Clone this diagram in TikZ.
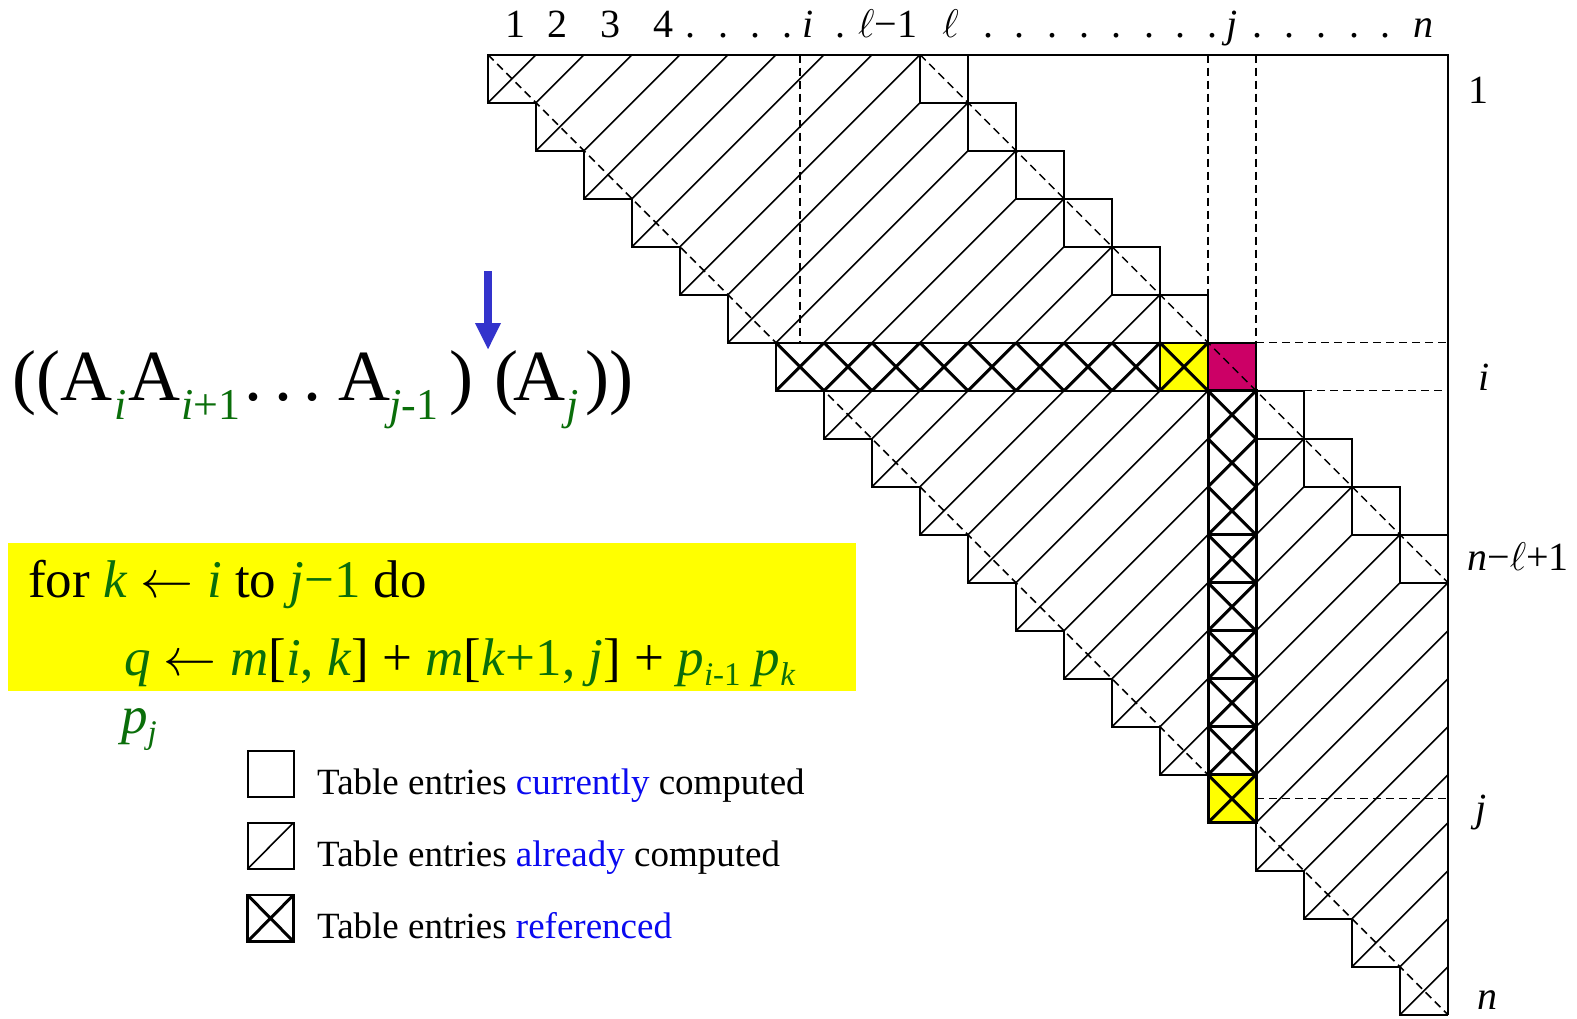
\RequirePackage{fix-cm}
\documentclass[tikz,border=0pt]{standalone}
\usepackage{fontspec}
\setmainfont{Liberation Serif}
\usetikzlibrary{arrows.meta}
\definecolor{codegreen}{RGB}{10,110,10}
\definecolor{cellmagenta}{RGB}{204,0,102}
\definecolor{cellyellow}{RGB}{255,255,0}
\definecolor{arrowblue}{RGB}{51,51,204}
\definecolor{legblue}{RGB}{10,10,240}
\newcommand{\gi}[1]{\textcolor{codegreen}{\textit{#1}}}
\newcommand{\gr}[1]{\textcolor{codegreen}{#1}}
\newcommand{\csub}[1]{\raisebox{-10pt}{\fontsize{33}{36}\selectfont\color{codegreen}#1}}
\newcommand{\larr}{\ensuremath{\leftarrow}}
\newcommand{\ellsym}{\ensuremath{\ell}}
\begin{document}
\begin{tikzpicture}[x=1pt,y=-1pt,
  tblline/.style={line width=2pt},
  hatchline/.style={line width=1.6pt},
  dashline/.style={line width=1.5pt, dash pattern=on 8pt off 5pt},
  refline/.style={line width=3pt},
  lbl/.style={font=\fontsize{40}{48}\selectfont, inner sep=0pt, anchor=base},
  bigtxt/.style={font=\fontsize{72}{80}\selectfont, inner sep=0pt, anchor=base west},
  subtxt/.style={font=\fontsize{44}{50}\selectfont\itshape, text=codegreen, inner sep=0pt, anchor=base west},
  codetxt/.style={font=\fontsize{53}{60}\selectfont, inner sep=0pt, anchor=base west},
  legtxt/.style={font=\fontsize{37}{44}\selectfont, inner sep=0pt, anchor=base west}]
\useasboundingbox (0,0) rectangle (1577,1019);
\fill[white] (0,0) rectangle (1577,1019);

% ---------------- table ----------------
\begin{scope}[shift={(488,54.7)}, x=48pt, y=-48pt]
  % fills
  \fill[cellyellow] (14,6) rectangle (15,7);
  \fill[cellyellow] (15,15) rectangle (16,16);
  \fill[cellmagenta] (15,6) rectangle (16,7);
  % hatching of already computed entries
  \foreach \rr in {1,...,20}{
    \pgfmathtruncatemacro\cmax{min(20,\rr+8)}
    \foreach \cc in {\rr,...,\cmax}{
      \ifnum\rr=7\relax\else\ifnum\cc=16\relax\else
        \draw[hatchline] (\cc-1,\rr) -- (\cc,\rr-1);
      \fi\fi
    }
  }
  % dashed diagonals
  \draw[dashline] (0,0) -- (20,20);
  \draw[dashline] (9,0) -- (20,11);
  % dashed guides
  \draw[dashline] (6.5,0) -- (6.5,6);
  \draw[dashline] (15,0) -- (15,6);
  \draw[dashline] (16,0) -- (16,6);
  \draw[dashline] (16,6) -- (20,6);
  \draw[dashline] (17,7) -- (20,7);
  \draw[dashline] (16,15.5) -- (20,15.5);
  % outline and staircase
  \draw[tblline] (20,20) -- (20,0) -- (0,0)
    \foreach \rr in {1,...,20}{ -- (\rr-1,\rr) -- (\rr,\rr) };
  % currently computed entries
  \foreach \rr in {1,...,11}{
    \draw[tblline] (\rr+8,\rr-1) rectangle (\rr+9,\rr);
  }
  % referenced row i
  \foreach \cc in {7,...,15}{
    \draw[refline] (\cc-1,6) -- (\cc,7) (\cc-1,7) -- (\cc,6);
  }
  \draw[tblline] (6,6) rectangle (15,7);
  \draw[tblline] (14,6) rectangle (15,7);
  % referenced column j
  \foreach \rr in {8,...,16}{
    \draw[refline] (15,\rr-1) -- (16,\rr) (15,\rr) -- (16,\rr-1);
  }
  \draw[refline] (15,7) rectangle (16,16);
  \foreach \rr in {10,...,15}{
    \draw[refline] (15,\rr) -- (16,\rr);
  }
\end{scope}

% ---------------- column labels ----------------
\node[lbl] (c1) at (515,37.3) {1};
\node[lbl] (c2) at (557,37.3) {2};
\node[lbl] (c3) at (610,37.3) {3};
\node[lbl] (c4) at (663,37.3) {4};
\node[lbl] (ci) at (808,37.3) {\textit{i}};
\node[lbl] (cl1) at (887.5,37.3) {\ellsym−1};
\node[lbl] (cl) at (950.5,37.3) {\ellsym};
\node[lbl] (cj) at (1232,37.3) {\textit{j}};
\node[lbl] (cn) at (1423,37.3) {\textit{n}};
\foreach[count=\k] \x in {690,723,755,787,840,988,1019,1052,1084,1116,1149,1180,1212,1257,1289,1321,1354,1385}{
  \node[lbl] (dot\k) at (\x,37.3) {.};
}

% ---------------- row labels ----------------
\node[lbl] (r1) at (1478,103.5) {1};
\node[lbl] (ri) at (1484,390.7) {\textit{i}};
\node[lbl, anchor=base west] (rl) at (1467,570) {\textit{n}−\ellsym+1};
\node[lbl] (rj) at (1481,821.7) {\textit{j}};
\node[lbl] (rn) at (1487,1009) {\textit{n}};

% ---------------- parenthesization ----------------
\node[bigtxt] (f1) at (12,400) {((};
\node[bigtxt] (f2) at (60,400) {A};
\node[subtxt] (f3) at (114,419) {i};
\node[bigtxt] (f4) at (128,400) {A};
\node[subtxt] (f5) at (181,419) {i\textup{+1}};
\node[bigtxt, anchor=base] (f6a) at (253,400) {.};
\node[bigtxt, anchor=base] (f6b) at (283,400) {.};
\node[bigtxt, anchor=base] (f6c) at (312,400) {.};
\node[bigtxt] (f7) at (338,400) {A};
\node[subtxt] (f8) at (389,419) {j\textup{-1}};
\node[bigtxt] (f9) at (449,400) {)};
\node[bigtxt] (f10) at (494,400) {(};
\node[bigtxt] (f11) at (513,400) {A};
\node[subtxt] (f12) at (566,419) {j};
\node[bigtxt] (f13) at (585,400) {))};
\coordinate (arrtop) at (488,271);
\coordinate (arrtip) at (488,350);
\draw[arrowblue, line width=8pt, -{Triangle[width=24pt,length=27pt]}] (arrtop) -- (arrtip);

% ---------------- code box ----------------
\fill[cellyellow] (8,543) rectangle (856,691);
\node[codetxt] (code1) at (28,597) {for \gi{k} \larr\ \gi{i} to \gi{j}\gr{−1} do};
\node[codetxt] (code2) at (124,675) {\gi{q} \larr\ \gi{m}[\gi{i}\gr{,} \gi{k}] + \gi{m}[\gi{k}\gr{+1,} \gi{j}] + \gi{p}\csub{\textit{i}-1} \gi{p}\csub{\textit{k}}};
\node[codetxt] (code3) at (121,733) {\gi{p}\csub{\textit{j}}};

% ---------------- legend ----------------
\draw[tblline] (247.5,750.5) rectangle (293.5,796.5);
\draw[tblline] (247.5,822.7) rectangle (293.5,869);
\draw[hatchline] (247.5,869) -- (293.5,822.7);
\draw[line width=2.6pt] (247.5,895) rectangle (293.5,941.5);
\draw[refline] (247.5,895) -- (293.5,941.5) (247.5,941.5) -- (293.5,895);
\node[legtxt] (lg1) at (317,794) {Table entries \textcolor{legblue}{currently} computed};
\node[legtxt] (lg2) at (317,866.5) {Table entries \textcolor{legblue}{already} computed};
\node[legtxt] (lg3) at (317,938.5) {Table entries \textcolor{legblue}{referenced}};
\end{tikzpicture}
\end{document}
